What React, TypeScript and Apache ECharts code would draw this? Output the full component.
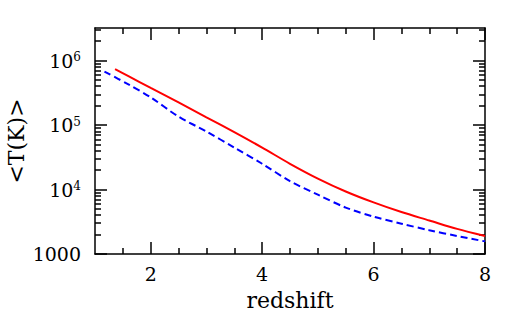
import React, { useEffect, useRef } from "react";
import * as echarts from "echarts";

// redshift values and mean temperatures (K)
const redX = [1.36, 1.6, 2, 2.5, 3, 3.5, 4, 4.5, 5, 5.5, 6, 6.5, 7, 7.5, 8];
const redT = [735000, 572000, 376000, 224000, 132000, 77600, 44700, 25100, 14800, 9330, 6310, 4470, 3310, 2450, 1900];
const blueX = [1.17, 1.6, 2, 2.5, 3, 3.5, 4, 4.5, 5, 5.5, 6, 6.5, 7, 7.5, 8];
const blueT = [676000, 427000, 269000, 135000, 79400, 44700, 25100, 13500, 8320, 5250, 3800, 2950, 2340, 1900, 1570];

const xMajor = [2, 4, 6, 8];
const xMinor = [1.5, 2.5, 3, 3.5, 4.5, 5, 5.5, 6.5, 7, 7.5];
const yMajor = [1000, 10000, 100000, 1000000];
const yMinor = [
  2000, 3000, 4000, 5000, 6000, 7000, 8000, 9000,
  20000, 30000, 40000, 50000, 60000, 70000, 80000, 90000,
  200000, 300000, 400000, 500000, 600000, 700000, 800000, 900000,
  2000000, 3000000,
];

const X_MIN = 1;
const X_MAX = 8;
const Y_MIN = 1000;
const Y_MAX = 3200000;
const FONT = "DejaVu Serif";

export default function App() {
  const ref = useRef<HTMLDivElement>(null);
  useEffect(() => {
    if (!ref.current) return;
    const chart = echarts.init(ref.current, null, { renderer: "svg" });
    const lineStyle = { color: "#000", width: 1.5 };

    const xAx = (position: string, ticks: number[], len: number, main: boolean) => ({
      type: "value",
      position,
      min: X_MIN,
      max: X_MAX,
      axisLine: { show: main, onZero: false, lineStyle },
      axisTick: { show: true, inside: true, length: len, customValues: ticks, lineStyle },
      axisLabel: {
        show: main && position === "bottom",
        customValues: xMajor,
        margin: 10,
        color: "#000",
        fontFamily: FONT,
        fontSize: 19,
      },
      splitLine: { show: false },
      name: main && position === "bottom" ? "redshift" : "",
      nameLocation: "middle",
      nameGap: 35,
      nameMoveOverlap: false,
      nameTextStyle: { color: "#000", fontFamily: FONT, fontSize: 22 },
    });

    const yAx = (position: string, ticks: number[], len: number, main: boolean) => ({
      type: "log",
      logBase: 10,
      position,
      min: Y_MIN,
      max: Y_MAX,
      axisLine: { show: main, onZero: false, lineStyle },
      axisTick: { show: true, inside: true, length: len, customValues: ticks, lineStyle },
      axisLabel: {
        show: main && position === "left",
        customValues: yMajor,
        margin: 14,
        formatter: (v: number) =>
          v === 1000 ? "{b|1000}" : `{b|10}{s|${Math.round(Math.log10(v))}}`,
        rich: {
          b: { fontSize: 19, fontFamily: FONT, color: "#000" },
          s: { fontSize: 12, fontFamily: FONT, color: "#000", verticalAlign: "top" },
        },
      },
      splitLine: { show: false },
      name: main && position === "left" ? "<T(K)>" : "",
      nameLocation: "middle",
      nameGap: 68,
      nameMoveOverlap: false,
      nameTextStyle: { color: "#000", fontFamily: FONT, fontSize: 22 },
    });

    chart.setOption({
      animation: false,
      backgroundColor: "#fff",
      grid: { left: 95, right: 28, top: 28, bottom: 62, containLabel: false, outerBoundsMode: "none" },
      xAxis: [
        xAx("bottom", xMajor, 12, true),
        xAx("bottom", xMinor, 6, false),
        xAx("top", xMajor, 12, true),
        xAx("top", xMinor, 6, false),
      ],
      yAxis: [
        yAx("left", yMajor, 12, true),
        yAx("left", yMinor, 6, false),
        yAx("right", yMajor, 12, true),
        yAx("right", yMinor, 6, false),
      ],
      series: [
        {
          type: "line",
          xAxisIndex: 0,
          yAxisIndex: 0,
          data: redX.map((x, i) => [x, redT[i]]),
          symbol: "none",
          smooth: 0.3,
          lineStyle: { color: "#ff0000", width: 2 },
        },
        {
          type: "line",
          xAxisIndex: 0,
          yAxisIndex: 0,
          data: blueX.map((x, i) => [x, blueT[i]]),
          symbol: "none",
          smooth: 0.3,
          lineStyle: { color: "#0000ff", width: 2, type: [7, 4] },
        },
      ],
    });
    return () => chart.dispose();
  }, []);
  return (
    <div
      ref={ref}
      style={{ position: "fixed", left: 0, top: 0, width: 513, height: 316, background: "#fff" }}
    />
  );
}
